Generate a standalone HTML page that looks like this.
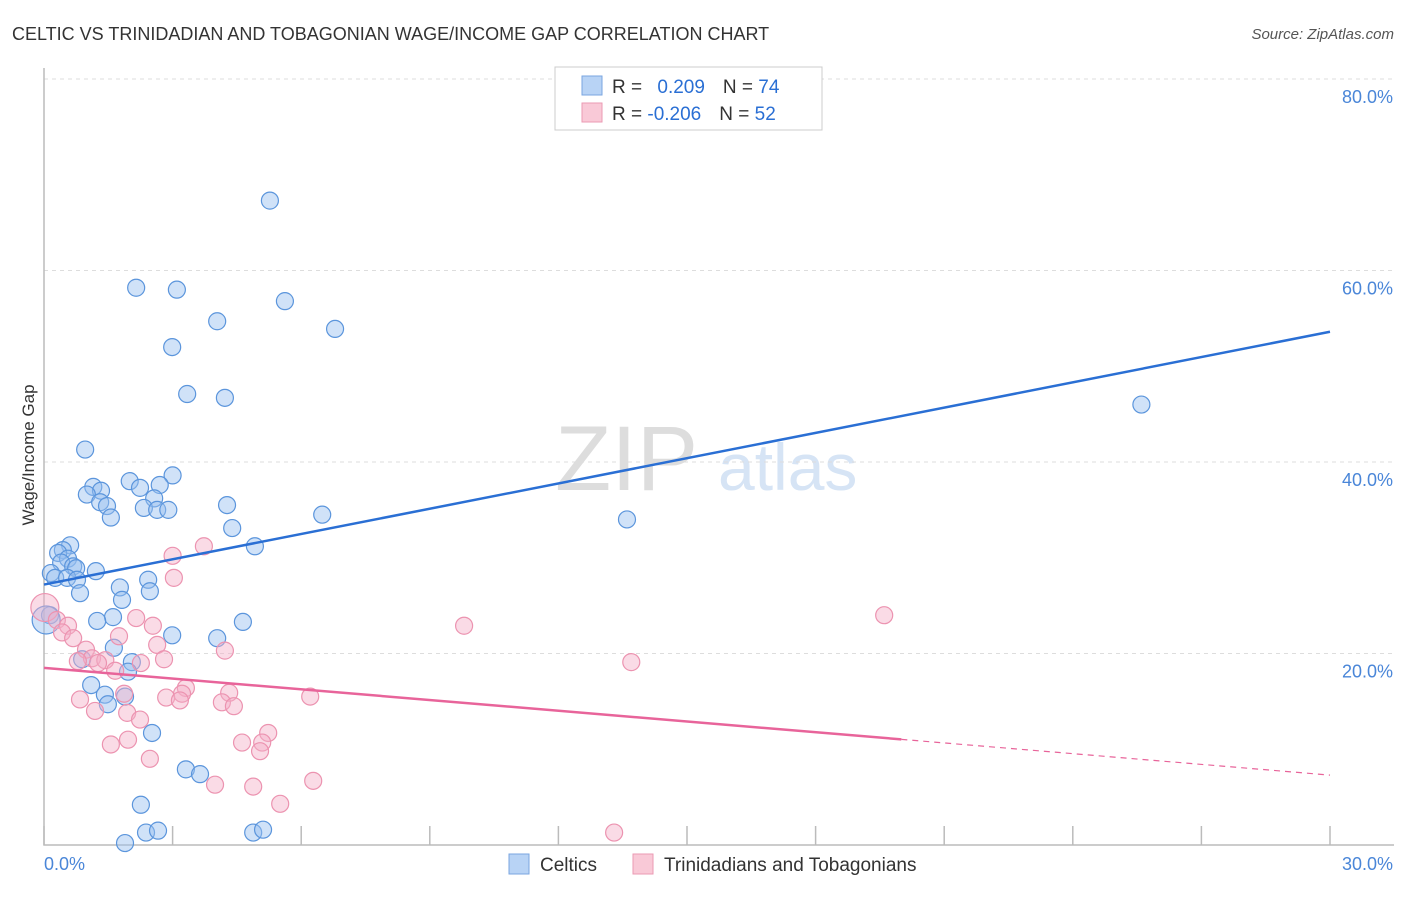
<!DOCTYPE html>
<html><head><meta charset="utf-8"><style>
body{margin:0;background:#fff;font-family:"Liberation Sans",sans-serif}
svg text{font-family:"Liberation Sans",sans-serif}
</style></head><body>
<svg id="chart" width="1406" height="892">
<text x="12" y="40" font-size="18" fill="#333">CELTIC VS TRINIDADIAN AND TOBAGONIAN WAGE/INCOME GAP CORRELATION CHART</text>
<text x="1394" y="39" font-size="15" fill="#555" font-style="italic" text-anchor="end">Source: ZipAtlas.com</text>
<g>
<text x="555" y="490" font-size="92" fill="#ddd" font-family="Liberation Serif">ZIP</text>
<text x="718" y="490" font-size="66" fill="#d6e4f5">atlas</text>
</g>
<g id="grid"></g>
<g id="axes"></g>
<g id="pts"></g>
<g id="trend"></g>
<text x="34" y="455" font-size="17" fill="#333" text-anchor="middle" transform="rotate(-90 34 455)">Wage/Income Gap</text>
<g>
<rect x="555" y="67" width="267" height="63" fill="#fff" stroke="#ccc"/>
<rect x="582" y="76" width="20" height="19" fill="#b8d3f5" stroke="#7aa6e0"/>
<rect x="582" y="103" width="20" height="19" fill="#f9c9d7" stroke="#eb9ab3"/>
<text x="612" y="93" font-size="19" fill="#333">R = <tspan fill="#2a6fd4" dx="10">0.209</tspan><tspan dx="18" fill="#333">N = </tspan><tspan fill="#2a6fd4">74</tspan></text>
<text x="612" y="120" font-size="19" fill="#333">R = <tspan fill="#2a6fd4">-0.206</tspan><tspan dx="18" fill="#333">N = </tspan><tspan fill="#2a6fd4">52</tspan></text>
</g>
<g>
<rect x="509" y="854" width="20" height="20" fill="#b8d3f5" stroke="#7aa6e0"/>
<text x="540" y="871" font-size="19" fill="#333">Celtics</text>
<rect x="633" y="854" width="20" height="20" fill="#f9c9d7" stroke="#eb9ab3"/>
<text x="664" y="871" font-size="19" fill="#333">Trinidadians and Tobagonians</text>
</g>
</svg>
<script>
const yTicks=[20,40,60,80];
const yTickLabels=["20.0%","40.0%","60.0%","80.0%"];
const xTicks=[0,3,6,9,12,15,18,21,24,27,30];
const celticsX=[5.27,2.15,3.10,5.62,4.04,6.79,2.99,3.34,4.22,25.6,0.96,2.0,3.0,1.15,1.33,1.0,2.24,2.7,2.57,1.31,1.47,2.33,2.64,2.9,4.27,1.56,6.49,13.6,4.39,4.92,0.61,0.44,0.33,0.56,0.4,0.68,0.75,1.21,0.16,0.26,0.54,0.77,2.43,1.77,0.84,2.47,1.82,0.14,1.61,1.24,4.64,2.99,4.04,1.63,0.89,2.05,1.96,1.1,1.42,1.89,1.49,2.52,3.31,3.64,2.26,2.38,2.66,1.89,4.88,5.11,0.05];
const celticsY=[67.3,58.2,58.0,56.8,54.7,53.9,52.0,47.1,46.7,46.0,41.3,38.0,38.6,37.4,37.0,36.6,37.3,37.6,36.2,35.8,35.4,35.2,35.0,35.0,35.5,34.2,34.5,34.0,33.1,31.2,31.3,30.8,30.5,29.9,29.5,29.1,28.9,28.6,28.4,27.9,27.9,27.7,27.7,26.9,26.3,26.5,25.6,24.0,23.8,23.4,23.3,21.9,21.6,20.6,19.4,19.1,18.1,16.7,15.7,15.5,14.7,11.7,7.9,7.4,4.2,1.3,1.5,0.2,1.3,1.6,23.5];
const trinX=[3.73,3.0,3.03,19.6,9.8,2.15,2.54,0.02,0.3,0.56,0.42,0.68,1.75,2.64,4.22,0.98,1.12,1.43,1.26,0.79,2.26,2.8,13.7,1.66,3.31,3.22,1.87,0.84,2.85,4.32,3.17,6.21,4.15,4.43,1.19,1.94,2.24,5.23,5.09,4.62,1.96,1.56,5.04,2.47,6.28,3.99,4.88,5.51,13.3];
const trinY=[31.2,30.2,27.9,24.0,22.9,23.7,22.9,24.8,23.5,22.9,22.2,21.6,21.8,20.9,20.3,20.4,19.5,19.3,19.0,19.2,19.0,19.4,19.1,18.2,16.4,15.8,15.8,15.2,15.4,15.9,15.1,15.5,14.9,14.5,14.0,13.8,13.1,11.7,10.7,10.7,11.0,10.5,9.8,9.0,6.7,6.3,6.1,4.3,1.3];
const celticsTrend=[27.2,53.6];
const trinTrend=[18.5,7.3];
const trinSolidEnd=20;
const X=v=>44+v/30*1286, Y=v=>845-v/20*191.5;
const NS="http://www.w3.org/2000/svg";
function mk(t,a,p){const e=document.createElementNS(NS,t);for(const k in a)e.setAttribute(k,a[k]);p.appendChild(e);return e;}
const grid=document.getElementById('grid'),axes=document.getElementById('axes'),pts=document.getElementById('pts'),tr=document.getElementById('trend');
yTicks.forEach((v,i)=>{
 const l=mk('line',{x1:44,x2:1394,y1:Y(v),y2:Y(v),stroke:'#ddd','stroke-dasharray':'4,4'},grid);
 
 
 const t=mk('text',{x:1393,y:Y(v)+24,'font-size':18,fill:'#4a86d8','text-anchor':'end'},axes);
 t.textContent=yTickLabels[i];
 
 
});
const ax=mk('path',{d:'M44 68V845H1394',fill:'none',stroke:'#bbb','stroke-width':1.5},axes);


xTicks.forEach(v=>{
 const l=mk('line',{x1:X(v),x2:X(v),y1:826,y2:845,stroke:'#bbb','stroke-width':1.5},axes);
 
 
});
const xl0=mk('text',{x:44,y:870,'font-size':18,fill:'#4a86d8'},axes);xl0.textContent='0.0%';


const xl1=mk('text',{x:1393,y:870,'font-size':18,fill:'#4a86d8','text-anchor':'end'},axes);xl1.textContent='30.0%';


celticsX.forEach((v,i)=>{
 const r=i===celticsX.length-1?14:8.5;
 const c=mk('circle',{cx:X(v),cy:Y(celticsY[i]),r:r,fill:'rgba(150,190,240,0.45)',stroke:'#5b95dc','stroke-width':1.2},pts);
 
 
});
trinX.forEach((v,i)=>{
 const r=i===7?14:8.5;
 const c=mk('circle',{cx:X(v),cy:Y(trinY[i]),r:r,fill:'rgba(245,175,200,0.45)',stroke:'#ec93b0','stroke-width':1.2},pts);
 
 
});
const bl=mk('line',{x1:X(0),y1:Y(celticsTrend[0]),x2:X(30),y2:Y(celticsTrend[1]),stroke:'#2a6fd4','stroke-width':2.5},tr);


const ty=x=>trinTrend[0]+(trinTrend[1]-trinTrend[0])*x/30;
const pl=mk('line',{x1:X(0),y1:Y(ty(0)),x2:X(trinSolidEnd),y2:Y(ty(trinSolidEnd)),stroke:'#e8649a','stroke-width':2.5},tr);


const pd=mk('line',{x1:X(trinSolidEnd),y1:Y(ty(trinSolidEnd)),x2:X(30),y2:Y(ty(30)),stroke:'#e8649a','stroke-width':1.2,'stroke-dasharray':'6,5'},tr);


</script>
</body></html>
